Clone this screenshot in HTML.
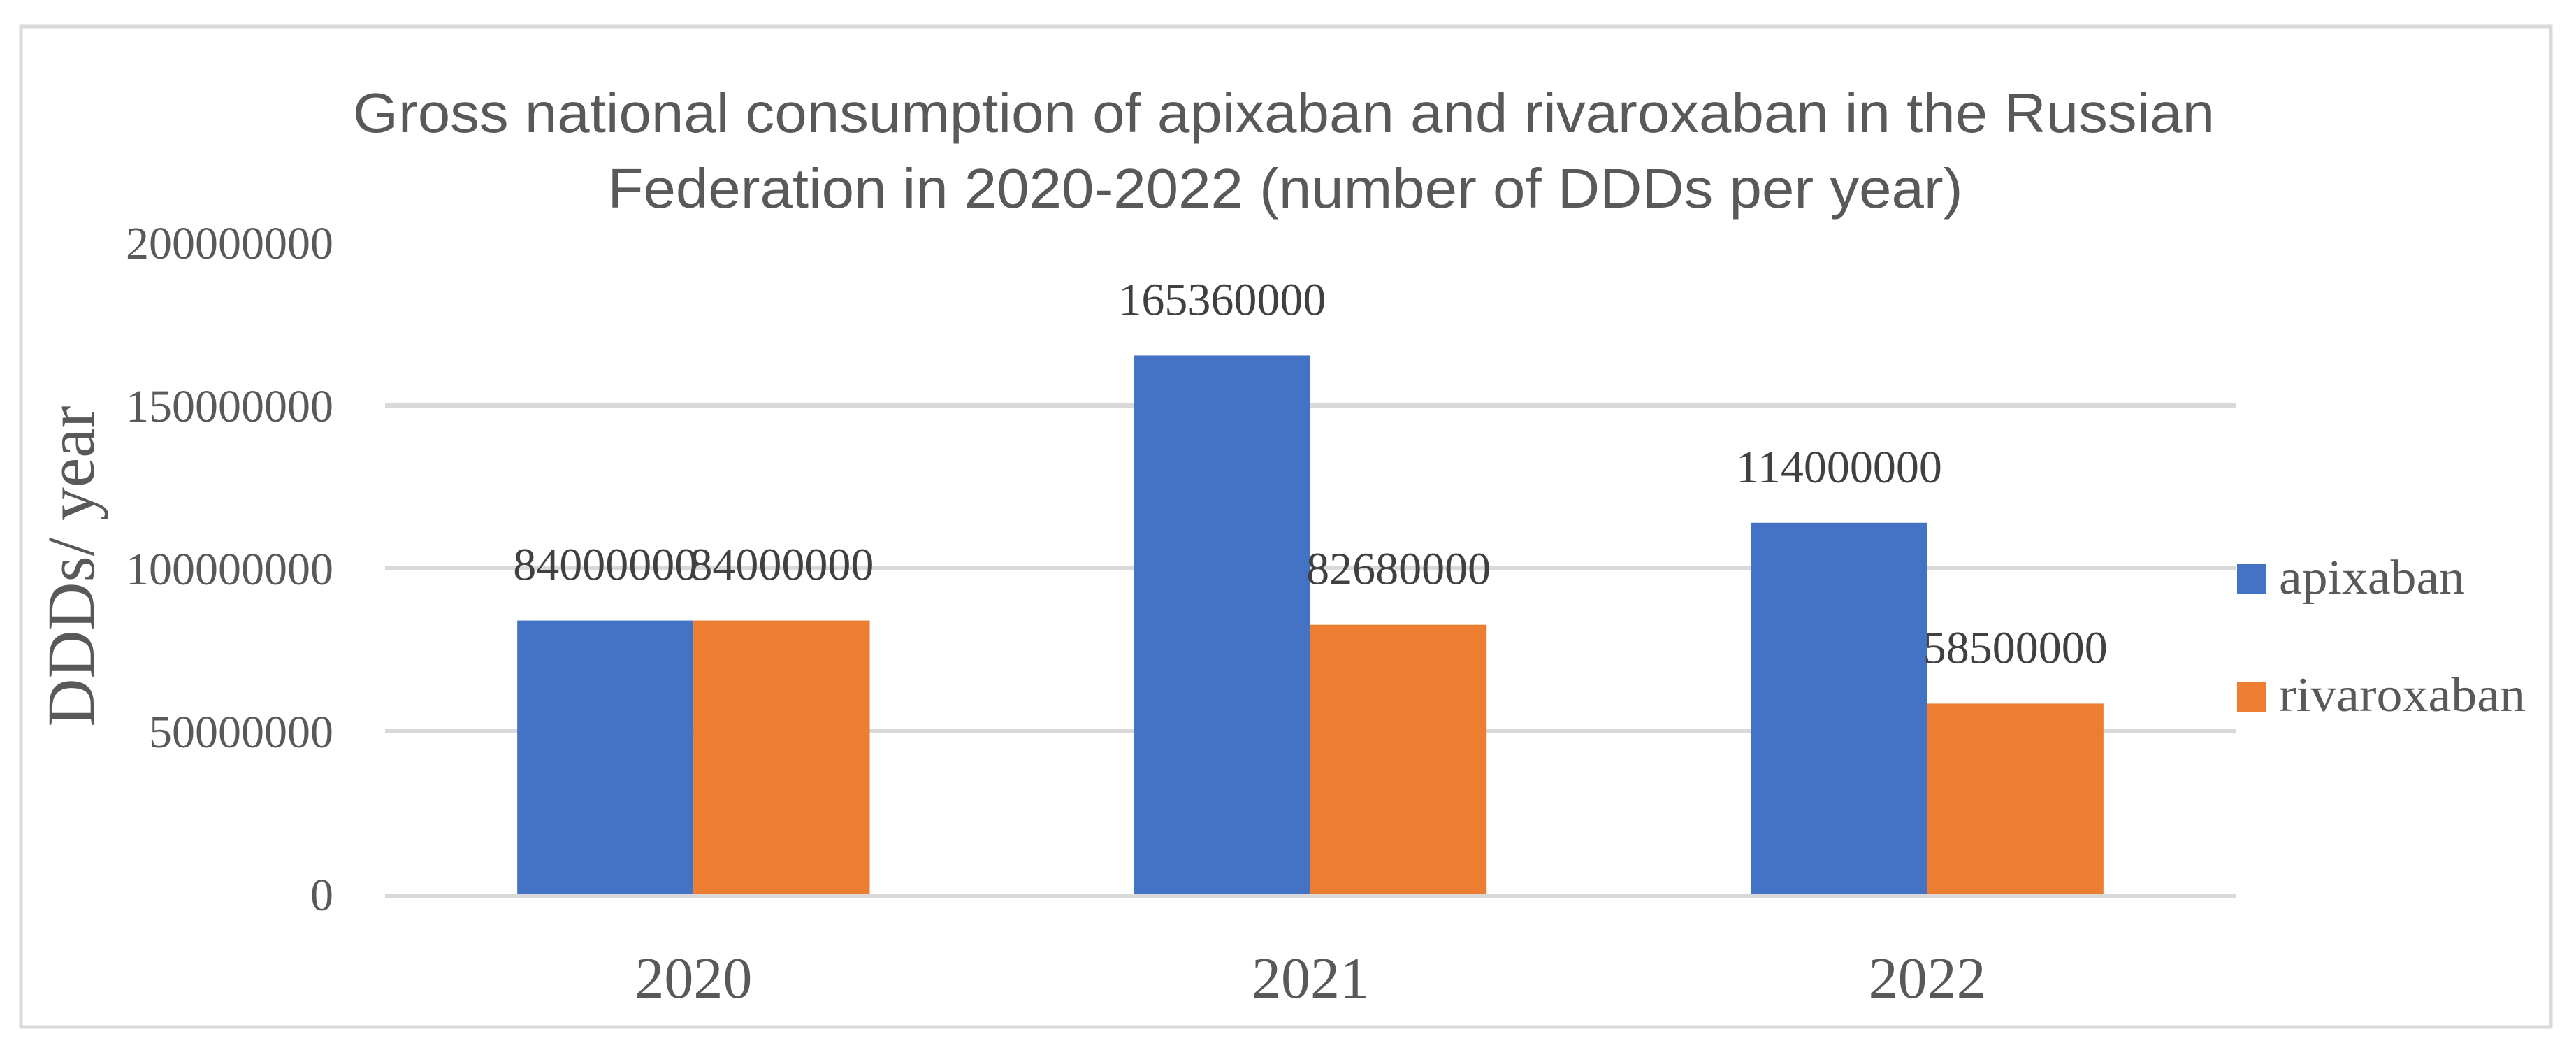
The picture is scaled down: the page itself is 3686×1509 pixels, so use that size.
<!DOCTYPE html>
<html><head><meta charset="utf-8"><style>
html,body{margin:0;padding:0;background:#fff;}
svg{display:block;}
</style></head><body>
<svg id="chart" width="3686" height="1509" viewBox="0 0 3686 1509" xmlns="http://www.w3.org/2000/svg">
<rect x="0" y="0" width="3686" height="1509" fill="#fff"/>
<rect x="30" y="38" width="3620" height="1431" fill="#fff" stroke="#D9D9D9" stroke-width="5"/>
<g font-family="'Liberation Sans', sans-serif" font-size="80" fill="#595959" text-anchor="middle">
<text x="1837" y="189" textLength="2664" lengthAdjust="spacingAndGlyphs">Gross national consumption of apixaban and rivaroxaban in the Russian</text>
<text x="1839" y="297" textLength="1939" lengthAdjust="spacingAndGlyphs">Federation in 2020-2022 (number of DDDs per year)</text>
</g>
<text transform="translate(134,810) rotate(-90)" text-anchor="middle" font-family="'Liberation Serif', serif" font-size="96" fill="#595959" textLength="459" lengthAdjust="spacingAndGlyphs">DDDs/  year</text>
<g id="grid"></g>
<g id="yticks"></g>
<g id="bars"></g>
<g id="labels"></g>
<g id="xticks"></g>
<g font-family="'Liberation Serif', serif" font-size="70" fill="#595959">
<rect x="3201" y="807" width="42" height="42" fill="#4472C4"/>
<text x="3261" y="849" textLength="266" lengthAdjust="spacingAndGlyphs">apixaban</text>
<rect x="3201" y="976" width="42" height="42" fill="#ED7D31"/>
<text x="3261" y="1017" textLength="353" lengthAdjust="spacingAndGlyphs">rivaroxaban</text>
</g>
</svg>
<script>
const categories = ["2020", "2021", "2022"];
const apixaban = [84000000, 165360000, 114000000];
const rivaroxaban = [84000000, 82680000, 58500000];
const yTicks = [0, 50000000, 100000000, 150000000, 200000000];

const NS = "http://www.w3.org/2000/svg";
const plotL = 551, plotR = 3199, y0 = 1279, yTop = 347, yMax = 200000000;
const catW = (plotR - plotL) / categories.length;
const barW = catW / 3.5;
function yScale(v){ return y0 - (v / yMax) * (y0 - yTop); }
function xCenter(i){ return plotL + catW * (i + 0.5); }
function mk(tag, attrs, parent){
  const e = document.createElementNS(NS, tag);
  for (const k in attrs) e.setAttribute(k, attrs[k]);
  document.getElementById(parent).appendChild(e);
  return e;
}
yTicks.forEach((t, i) => {
  const y = yScale(t);
  if (t > 0 && t < yMax) {
    const l = mk("line", {x1: plotL, x2: plotR, y1: y, y2: y, stroke: "#D9D9D9", "stroke-width": 6}, "grid");
    
    
  }
  const tx = mk("text", {x: 477, y: y + 23, "text-anchor": "end", "font-family": "'Liberation Serif', serif", "font-size": 66, fill: "#595959"}, "yticks");
  tx.textContent = String(t);
  
  
});
categories.forEach((c, i) => {
  const cx = xCenter(i);
  const series = [[apixaban[i], "#4472C4", cx - barW, "apixaban"], [rivaroxaban[i], "#ED7D31", cx, "rivaroxaban"]];
  series.forEach(s => {
    const top = yScale(s[0]);
    const r = mk("rect", {x: s[2], y: top, width: barW, height: y0 - top, fill: s[1]}, "bars");
    
    
    const lb = mk("text", {x: s[2] + barW / 2, y: top - 58, "text-anchor": "middle", "font-family": "'Liberation Serif', serif", "font-size": 66, fill: "#404040"}, "labels");
    lb.textContent = String(s[0]);
    
    
  });
  const xl = mk("text", {x: cx, y: 1427, "text-anchor": "middle", "font-family": "'Liberation Serif', serif", "font-size": 84, fill: "#595959"}, "xticks");
  xl.textContent = c;
  
  
});
const base = mk("line", {x1: plotL, x2: plotR, y1: y0 + 3, y2: y0 + 3, stroke: "#D9D9D9", "stroke-width": 6}, "grid");


</script>
</body></html>
